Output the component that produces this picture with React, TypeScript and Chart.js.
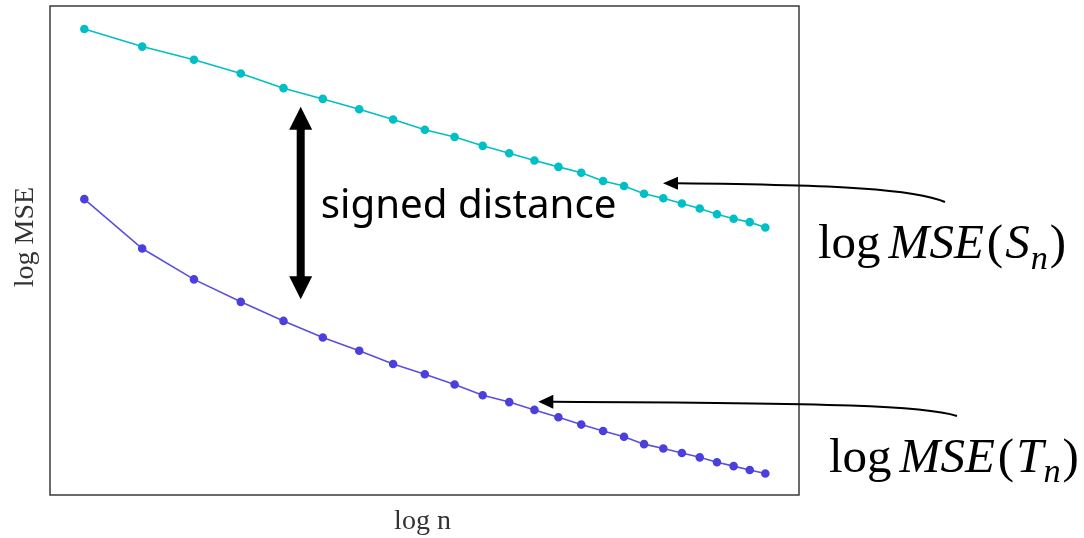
import React, { useEffect, useRef } from "react";
import { Chart, registerables } from "chart.js";

Chart.register(...registerables);

// sample sizes n (x axis is log n)
const sampleSizes = [8, 9, 10, 11, 12, 13, 14, 15, 16, 17, 18, 19, 20, 21, 22, 23, 24, 25, 26, 27, 28, 29, 30, 31, 32];

// log MSE of S_n (cyan) and T_n (purple), arbitrary units
const logMseS = [9.53, 9.17, 8.9, 8.62, 8.32, 8.1, 7.89, 7.68, 7.47, 7.32, 7.14, 6.99, 6.84, 6.71, 6.59, 6.42, 6.32, 6.16, 6.07, 5.96, 5.86, 5.74, 5.65, 5.58, 5.47];
const logMseT = [6.05, 5.04, 4.41, 3.95, 3.56, 3.22, 2.95, 2.68, 2.47, 2.26, 2.04, 1.9, 1.74, 1.59, 1.44, 1.31, 1.19, 1.04, 0.95, 0.86, 0.77, 0.67, 0.59, 0.51, 0.44];

const xTitle = "log n";
const yTitle = "log MSE";
const gapLabel = "signed distance";

const cyan = "#00bfc6";
const purple = "#4c40dd";

type Seg = { t: string; italic?: boolean; sub?: boolean; gap?: number };

function drawMath(ctx: CanvasRenderingContext2D, segs: Seg[], x: number, y: number, size: number) {
  let cx = x;
  for (const s of segs) {
    const sz = s.sub ? size * 0.7 : size;
    ctx.font = `${s.italic ? "italic " : ""}${sz}px "Liberation Serif", "DejaVu Serif", serif`;
    ctx.fillText(s.t, cx, s.sub ? y + size * 0.22 : y);
    cx += ctx.measureText(s.t).width + (s.gap || 0);
  }
}

function curvedArrow(
  ctx: CanvasRenderingContext2D,
  sx: number, sy: number,
  c1x: number, c1y: number,
  c2x: number, c2y: number,
  tx: number, ty: number,
  headLen: number, headHalf: number
) {
  ctx.save();
  ctx.strokeStyle = "#000";
  ctx.fillStyle = "#000";
  ctx.lineWidth = 2;
  ctx.beginPath();
  ctx.moveTo(sx, sy);
  ctx.bezierCurveTo(c1x, c1y, c2x, c2y, tx + headLen - 1, ty);
  ctx.stroke();
  ctx.beginPath();
  ctx.moveTo(tx, ty);
  ctx.lineTo(tx + headLen, ty - headHalf);
  ctx.lineTo(tx + headLen, ty + headHalf);
  ctx.closePath();
  ctx.fill();
  ctx.restore();
}

const overlayPlugin = {
  id: "overlay",
  afterDraw(chart: any) {
    const { ctx, chartArea } = chart;
    const { left, top, right, bottom } = chartArea;
    ctx.save();
    // frame
    ctx.strokeStyle = "#3a3a3a";
    ctx.lineWidth = 1.5;
    ctx.strokeRect(left, top, right - left, bottom - top);

    // axis titles
    ctx.fillStyle = "#333";
    ctx.font = '28px "Liberation Serif", "DejaVu Serif", serif';
    ctx.textAlign = "center";
    ctx.textBaseline = "alphabetic";
    ctx.fillText(xTitle, (left + right) / 2 - 2, 529);
    ctx.save();
    ctx.translate(33, 237);
    ctx.rotate(-Math.PI / 2);
    ctx.fillText(yTitle, 0, 0);
    ctx.restore();

    // double arrow
    const ax = 300.7, aTop = 106.7, aBot = 299.3, hl = 23, hw = 11.5, sw = 4;
    ctx.fillStyle = "#000";
    ctx.fillRect(ax - sw, aTop + hl - 1, sw * 2, aBot - aTop - 2 * hl + 2);
    ctx.beginPath();
    ctx.moveTo(ax, aTop);
    ctx.lineTo(ax + hw, aTop + hl);
    ctx.lineTo(ax - hw, aTop + hl);
    ctx.closePath();
    ctx.fill();
    ctx.beginPath();
    ctx.moveTo(ax, aBot);
    ctx.lineTo(ax + hw, aBot - hl);
    ctx.lineTo(ax - hw, aBot - hl);
    ctx.closePath();
    ctx.fill();

    // signed distance label
    ctx.textAlign = "left";
    ctx.font = '100px "Noto Sans", "Open Sans", sans-serif';
    const w100 = ctx.measureText(gapLabel).width;
    const fs = (100 * 296) / w100;
    ctx.font = `${fs}px "Noto Sans", "Open Sans", sans-serif`;
    ctx.fillText(gapLabel, 320.7, 217.7);

    // pointer arrows
    curvedArrow(ctx, 945, 202, 915, 189, 840, 185, 663, 183.3, 15, 6.5);
    curvedArrow(ctx, 957, 416, 925, 406, 840, 403, 538.3, 401.7, 15, 7);

    // series labels
    ctx.fillStyle = "#000";
    drawMath(ctx, [{ t: "log", gap: 8 }, { t: "MSE", italic: true, gap: 3 }, { t: "(", gap: 2 }, { t: "S", italic: true, gap: 1 }, { t: "n", italic: true, sub: true, gap: 2 }, { t: ")" }], 818, 258, 49);
    drawMath(ctx, [{ t: "log", gap: 8 }, { t: "MSE", italic: true, gap: 3 }, { t: "(", gap: 2 }, { t: "T", italic: true, gap: 0 }, { t: "n", italic: true, sub: true, gap: 2 }, { t: ")" }], 829, 471.7, 49);
    ctx.restore();
  },
};

export default function App() {
  const ref = useRef<HTMLCanvasElement | null>(null);
  useEffect(() => {
    document.body.style.margin = "0";
    const canvas = ref.current;
    if (!canvas) return;
    const chart = new Chart(canvas, {
      type: "line",
      data: {
        datasets: [
          {
            label: "S",
            data: sampleSizes.map((n, i) => ({ x: n, y: logMseS[i] })),
            borderColor: cyan,
            backgroundColor: cyan,
            pointBackgroundColor: cyan,
            pointBorderColor: cyan,
            borderWidth: 1.6,
            pointRadius: 3.5,
            tension: 0,
          },
          {
            label: "T",
            data: sampleSizes.map((n, i) => ({ x: n, y: logMseT[i] })),
            borderColor: "#5a4fe0",
            backgroundColor: purple,
            pointBackgroundColor: purple,
            pointBorderColor: purple,
            borderWidth: 1.6,
            pointRadius: 3.5,
            tension: 0,
          },
        ],
      },
      options: {
        responsive: false,
        animation: false,
        layout: { padding: { left: 50, top: 6, right: 285, bottom: 43 } },
        plugins: { legend: { display: false }, tooltip: { enabled: false } },
        scales: {
          x: { type: "logarithmic", min: 7.46, max: 34.27, display: false },
          y: { type: "linear", min: 0, max: 10, display: false },
        },
      },
      plugins: [overlayPlugin],
    });
    return () => chart.destroy();
  }, []);
  return <canvas ref={ref} width={1084} height={538} style={{ display: "block" }} />;
}
